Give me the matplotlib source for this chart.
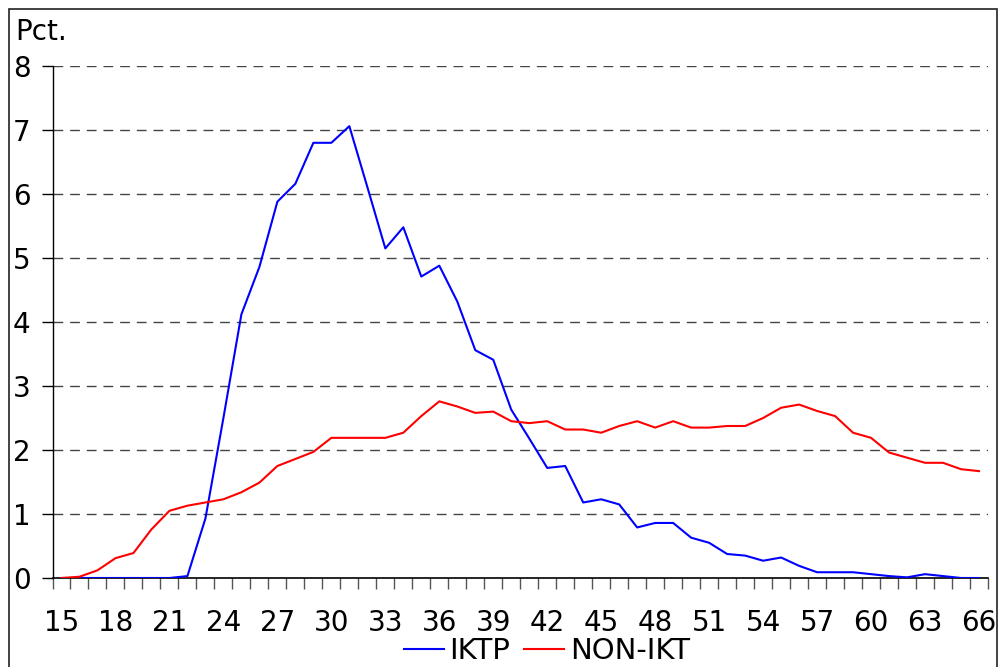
import matplotlib
matplotlib.use("Agg")
import matplotlib.pyplot as plt
from matplotlib.patches import Rectangle

ages = list(range(15, 67))
iktp = [0, 0, 0, 0, 0, 0, 0, 0.03, 0.93, 2.5, 4.12, 4.86, 5.88, 6.16, 6.80, 6.80,
        7.06, 6.11, 5.15, 5.48, 4.71, 4.88, 4.32, 3.56, 3.41, 2.63, 2.18, 1.72,
        1.75, 1.18, 1.23, 1.15, 0.79, 0.86, 0.86, 0.63, 0.55, 0.375, 0.35, 0.27,
        0.32, 0.19, 0.09, 0.09, 0.09, 0.06, 0.03, 0.01, 0.06, 0.03, 0.0, 0.0]
non_ikt = [0, 0.02, 0.12, 0.31, 0.39, 0.76, 1.05, 1.13, 1.18, 1.23, 1.34, 1.49,
           1.75, 1.86, 1.97, 2.19, 2.19, 2.19, 2.19, 2.27, 2.53, 2.76, 2.68, 2.58,
           2.60, 2.45, 2.42, 2.45, 2.32, 2.32, 2.27, 2.375, 2.45, 2.35, 2.45, 2.35,
           2.35, 2.375, 2.375, 2.50, 2.66, 2.71, 2.61, 2.53, 2.27, 2.19, 1.96, 1.88,
           1.80, 1.80, 1.70, 1.67]
series_names = ["IKTP", "NON-IKT"]
yticks = list(range(0, 9))

plt.rcParams['font.family'] = ['DejaVu Sans']

fig = plt.figure(figsize=(10, 6.67), dpi=100)
W, H = 1000, 667
ax = fig.add_axes([52.5 / W, 1 - 578 / H, (988 - 52.5) / W, (578 - 66) / H])

idx = list(range(len(ages)))
ax.plot(idx, iktp, color='#0000FF', lw=1.5, label=series_names[0], zorder=3)
ax.plot(idx, non_ikt, color='#FF0000', lw=1.5, label=series_names[1], zorder=3)

ax.set_xlim(-0.5, len(ages) - 0.5)
ax.set_ylim(0, 8)

# x ticks: marks at category boundaries, labels every 3rd category
ax.set_xticks([i - 0.5 for i in range(len(ages) + 1)])
ax.set_xticklabels([])
ax.tick_params(axis='x', which='major', direction='out', length=8, width=1, color='#555555')
lab_idx = [i for i in idx if (ages[i] - 15) % 3 == 0]
ax.set_xticks(lab_idx, minor=True)
ax.set_xticklabels([str(ages[i]) for i in lab_idx], minor=True)
ax.tick_params(axis='x', which='minor', length=0, pad=22, labelsize=20)

ax.set_yticks(yticks)
ax.set_yticklabels([str(v) for v in yticks])
ax.tick_params(axis='y', direction='out', length=8, width=1, pad=7.8, labelsize=20)

for v in yticks[1:]:
    ax.axhline(v, color='#444444', lw=1, ls=(0, (7, 5)), zorder=1)

ax.spines['top'].set_visible(False)
ax.spines['right'].set_visible(False)
ax.spines['left'].set_linewidth(1)
ax.spines['bottom'].set_linewidth(1.2)

fig.text(15 / W, 1 - 32 / H, "Pct.", fontsize=20, ha='left', va='center')

ax.legend(loc='center', bbox_to_anchor=(547 / W, 1 - 651 / H), bbox_transform=fig.transFigure,
          ncol=2, frameon=False, fontsize=21, handlelength=1.37, handletextpad=0.2,
          columnspacing=0.48, borderpad=0, borderaxespad=0)

fig.patches.append(Rectangle((8.5 / W, -0.05), (997 - 8.5) / W, 1.05 - 8.5 / H,
                             transform=fig.transFigure, fill=False, edgecolor='#222222',
                             lw=1.2))

fig.savefig("out.png", dpi=100)
